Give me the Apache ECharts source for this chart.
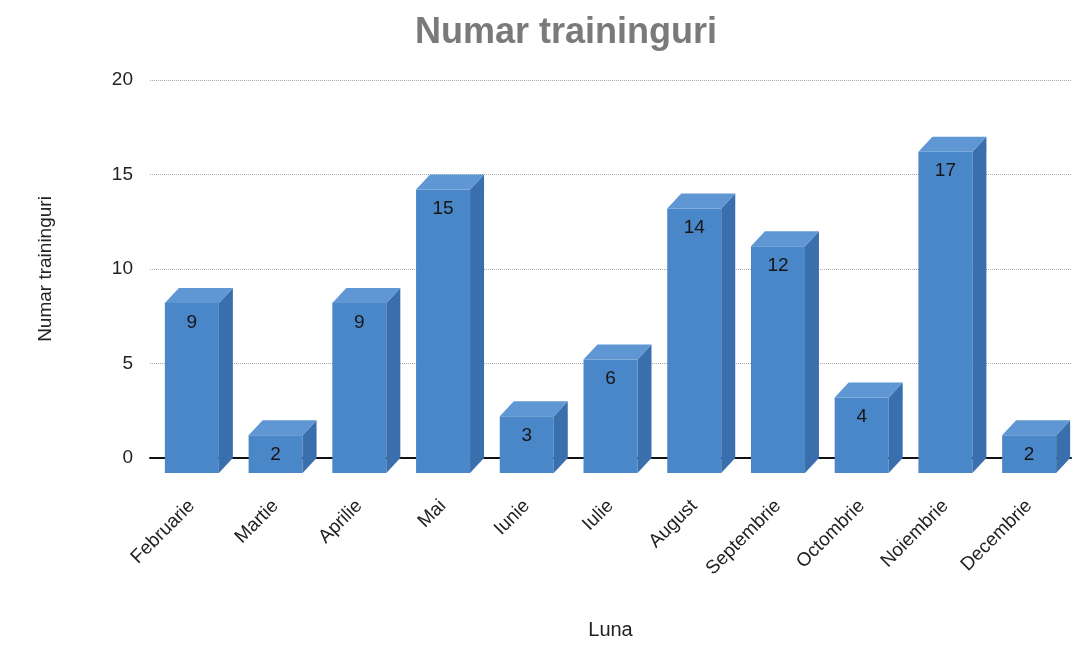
<!DOCTYPE html>
<html>
<head>
<meta charset="utf-8">
<script src="https://cdn.jsdelivr.net/npm/echarts@6/dist/echarts.min.js"></script>
<style>
  html, body {margin: 0; padding: 0; background: #fff;}
  #chart {width: 1083px; height: 645px;}
</style>
</head>
<body>
<div id="chart"></div>
<script>
// luni si numar de traininguri
var months = ['Februarie', 'Martie', 'Aprilie', 'Mai', 'Iunie', 'Iulie', 'August', 'Septembrie', 'Octombrie', 'Noiembrie', 'Decembrie']
var trainings = [9, 2, 9, 15, 3, 6, 14, 12, 4, 17, 2]
var yTicks = [0, 5, 10, 15, 20]

var DX = 14 // adancimea barei (3D)
var DY = 15
var BAR_W = 54

function renderBar (params, api) {
  var idx = api.value(0)
  var val = api.value(1)
  var top = api.coord([idx, val])
  var base = api.coord([idx, 0])
  var x0 = top[0] - BAR_W / 2
  var x1 = top[0] + BAR_W / 2
  var yt = top[1] + DY
  var yb = base[1] + DY
  return {
    type: 'group',
    children: [{
      type: 'rect',
      shape: {x: x0, y: yt, width: BAR_W, height: yb - yt},
      style: {fill: '#4a87c9'}
    }, {
      type: 'polygon',
      shape: {points: [[x1, yt], [x1 + DX, yt - DY], [x1 + DX, yb - DY], [x1, yb]]},
      style: {fill: '#3a6fae'}
    }, {
      type: 'polygon',
      shape: {points: [[x0, yt], [x0 + DX, yt - DY], [x1 + DX, yt - DY], [x1, yt]]},
      style: {fill: '#5e97d4'}
    }, {
      type: 'text',
      style: {
        x: top[0],
        y: yt + 10,
        text: String(val),
        fill: '#151515',
        font: '19px "Liberation Sans", Arial, sans-serif',
        align: 'center',
        verticalAlign: 'top'
      }
    }]
  }
}

var chart = echarts.init(document.getElementById('chart'))
chart.setOption({
  backgroundColor: '#fff',
  animation: false,
  textStyle: {fontFamily: '"Liberation Sans", Arial, sans-serif'},
  title: {
    text: 'Numar traininguri',
    left: 410,
    top: 10,
    textStyle: {color: '#7a7a7a', fontSize: 36, fontWeight: 'bold'}
  },
  grid: {left: 150, right: 12, top: 80, bottom: 174},
  xAxis: {
    type: 'category',
    data: months,
    name: 'Luna',
    nameLocation: 'middle',
    nameGap: 162,
    nameTextStyle: {color: '#222', fontSize: 20},
    axisLine: {lineStyle: {color: '#111', width: 2}},
    axisTick: {show: false},
    axisLabel: {rotate: 45, margin: 45, color: '#222', fontSize: 19, interval: 0}
  },
  yAxis: {
    type: 'value',
    min: yTicks[0],
    max: yTicks[yTicks.length - 1],
    interval: 5,
    name: 'Numar traininguri',
    nameLocation: 'middle',
    nameGap: 95,
    nameTextStyle: {color: '#222', fontSize: 19},
    axisLine: {show: false},
    axisTick: {show: false},
    axisLabel: {margin: 17, color: '#222', fontSize: 19},
    splitLine: {lineStyle: {color: '#aaa', type: 'dotted', width: 1}}
  },
  series: [{
    type: 'custom',
    renderItem: renderBar,
    data: trainings.map(function (v, i) { return [i, v] })
  }]
})
</script>
</body>
</html>
